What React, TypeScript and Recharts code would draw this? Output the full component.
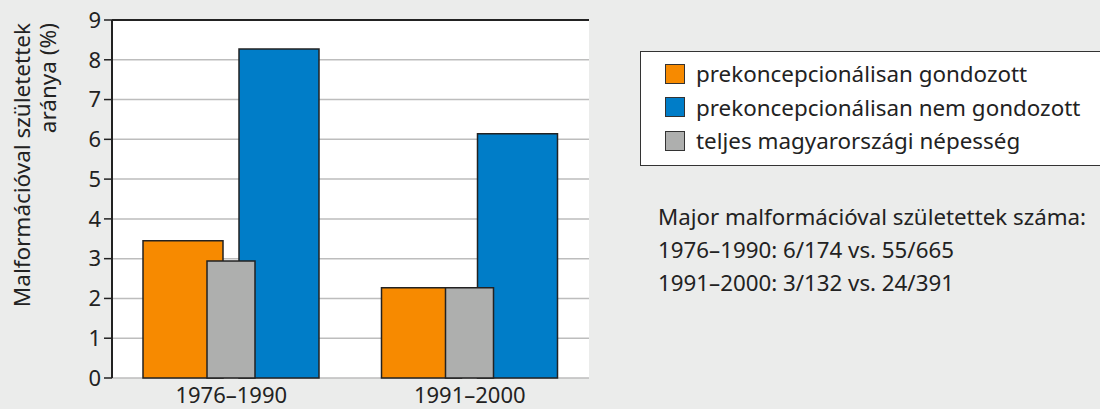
import React from 'react';
import { BarChart, Bar, XAxis, YAxis, CartesianGrid, ReferenceLine, Legend } from 'recharts';

const periods = ['1976–1990', '1991–2000'];
const gondozott = [3.45, 2.27];
const nemGondozott = [8.27, 6.14];
const nepesseg = [2.94, 2.27];
const yTicks = [0, 1, 2, 3, 4, 5, 6, 7, 8, 9];
const boundaryTicks = [0, 1, 2];

const seriesNames = {
  gondozott: 'prekoncepcionálisan gondozott',
  nemGondozott: 'prekoncepcionálisan nem gondozott',
  nepesseg: 'teljes magyarországi népesség',
};
const yLabelLines = ['Malformációval születettek', 'aránya (%)'];
const noteLines = [
  'Major malformációval születettek száma:',
  '1976–1990: 6/174 vs. 55/665',
  '1991–2000: 3/132 vs. 24/391',
];

const FONT = '"Noto Sans", sans-serif';
const TEXT = '#222';

const data = periods.map((p, i) => ({
  period: p,
  gondozott: gondozott[i],
  nemGondozott: nemGondozott[i],
  nepesseg: nepesseg[i],
}));

const YLabel = ({ viewBox }: any) => {
  const top = viewBox.y + 3;
  return (
    <g>
      {yLabelLines.map((line, i) => {
        const x = 30 + i * 26;
        return (
          <text
            key={line}
            x={x}
            y={top}
            transform={`rotate(-90, ${x}, ${top})`}
            textAnchor="end"
            fill={TEXT}
            fontSize={22.5}
            fontFamily={FONT}
          >
            {line}
          </text>
        );
      })}
    </g>
  );
};

const LegendBox = ({ payload }: any) => (
  <div style={{ border: '1.5px solid #333', background: '#fff', padding: '5px 0 7px 24px', fontFamily: FONT, textAlign: 'left' }}>
    {(payload || []).map((p: any) => (
      <div key={p.value} style={{ display: 'flex', alignItems: 'center', height: 33.5, fontSize: 22.4, color: TEXT }}>
        <span style={{ width: 18, height: 18, background: p.color, border: '1.5px solid #333', marginRight: 11, display: 'inline-block' }} />
        {p.value}
      </div>
    ))}
  </div>
);

export default function App() {
  return (
    <div style={{ position: 'relative', width: 1100, height: 409, background: '#ebeceb', fontFamily: FONT, overflow: 'hidden' }}>
      <style>{'body{margin:0}'}</style>
      <BarChart
        width={1100}
        height={409}
        data={data}
        margin={{ top: 20, right: 511, left: 0, bottom: 0 }}
        barGap={16}
      >
        <CartesianGrid vertical={false} fill="#fff" stroke="#bdbdbd" strokeWidth={1.5} />
        <XAxis
          xAxisId="ticks"
          type="number"
          domain={[0, 2]}
          ticks={boundaryTicks}
          tickFormatter={() => ''}
          height={0}
          axisLine={{ stroke: '#222', strokeWidth: 2 }}
          tickLine={{ stroke: '#222', strokeWidth: 1.5 }}
          tickSize={8}
        />
        <XAxis
          xAxisId="a"
          dataKey="period"
          height={31}
          axisLine={false}
          tickLine={false}
          tickMargin={3}
          tick={{ fill: TEXT, fontSize: 22, fontFamily: FONT }}
        />
        <XAxis xAxisId="b" dataKey="period" hide />
        <YAxis
          width={112}
          domain={[0, 9]}
          ticks={yTicks}
          interval={0}
          axisLine={{ stroke: '#222', strokeWidth: 2 }}
          tickLine={{ stroke: '#222', strokeWidth: 1.5 }}
          tickSize={8}
          tickMargin={3}
          tick={{ fill: TEXT, fontSize: 22, fontFamily: FONT }}
          label={<YLabel />}
        />
        <ReferenceLine y={9} xAxisId="a" stroke="#222" strokeWidth={2} />
        <ReferenceLine x={2} xAxisId="ticks" stroke="#222" strokeWidth={2} />
        <Legend
          verticalAlign="middle"
          align="center"
          layout="vertical"
          wrapperStyle={{ left: 640, top: 51, width: 520 }}
          content={<LegendBox />}
        />
        <Bar xAxisId="a" dataKey="gondozott" name={seriesNames.gondozott} fill="#f78a00" stroke="#222" strokeWidth={1.5} barSize={80} isAnimationActive={false} />
        <Bar xAxisId="a" dataKey="nemGondozott" name={seriesNames.nemGondozott} fill="#007dc8" stroke="#222" strokeWidth={1.5} barSize={80} isAnimationActive={false} />
        <Bar xAxisId="b" dataKey="nepesseg" name={seriesNames.nepesseg} fill="#aeafae" stroke="#222" strokeWidth={1.5} barSize={48} isAnimationActive={false} />
      </BarChart>
      <div style={{ position: 'absolute', left: 658, top: 200, color: TEXT, fontSize: 22.3, lineHeight: '33px' }}>
        {noteLines.map((l) => (
          <div key={l}>{l}</div>
        ))}
      </div>
    </div>
  );
}
